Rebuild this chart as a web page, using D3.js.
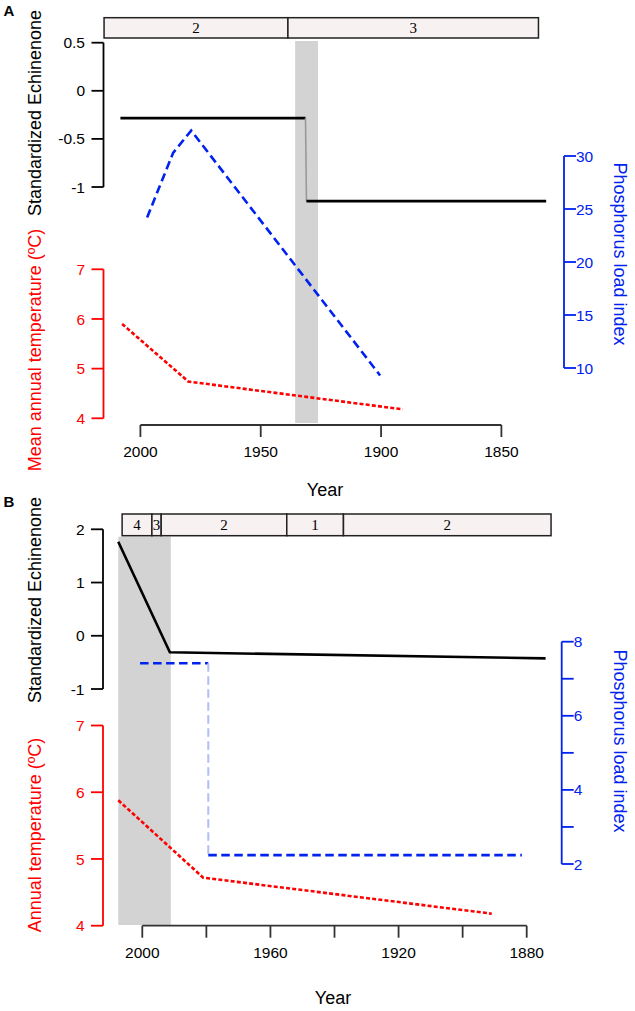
<!DOCTYPE html>
<html>
<head>
<meta charset="utf-8">
<script src="https://cdn.jsdelivr.net/npm/d3@7/dist/d3.min.js"></script>
<style>
  body { margin: 0; background: #fff; }
  text { font-family: "Liberation Sans", Arial, sans-serif; }
  text.zone { font-family: "Liberation Serif", "Times New Roman", serif; }
</style>
</head>
<body>
<svg id="paper" width="635" height="1011"></svg>
<script>
// ---- panel A data ----
const aEchYear = [2008.3, 1931.4, 1931.0, 1831.4];
const aEchVal = [-0.284, -0.284, -1.147, -1.147];
const aPhosYear = [1997.2, 1986.4, 1978.9, 1900.4];
const aPhosVal = [24.2, 30.3, 32.4, 9.3];
const aTempYear = [2007.6, 1980.1, 1891.0];
const aTempVal = [5.9, 4.74, 4.18];
const aZones = ["2", "3"];
const aZoneBreaks = [2015.1, 1938.7, 1834.6];
const aShade = [1935.7, 1926.2];
const aYearTicks = [2000, 1950, 1900, 1850];
const aYearLabels = ["2000", "1950", "1900", "1850"];
const aEchTicks = [0.5, 0, -0.5, -1];
const aEchLabels = ["0.5", "0", "-0.5", "-1"];
const aTempTicks = [7, 6, 5, 4];
const aPhosTicks = [30, 25, 20, 15, 10];
const aPhosLabels = ["30", "25", "20", "15", "10"];

// ---- panel B data ----
const bEchYear = [2007.5, 1991.4, 1874.1];
const bEchVal = [1.767, -0.311, -0.424];
const bPhosYear = [2000.7, 1979.4, 1979.4, 1881.5];
const bPhosVal = [7.42, 7.42, 2.24, 2.24];
const bTempYear = [2007.5, 1981.0, 1890.9];
const bTempVal = [5.88, 4.72, 4.18];
const bZones = ["4", "3", "2", "1", "2"];
const bZoneBreaks = [2006.3, 1997.0, 1994.1, 1954.9, 1937.2, 1872.4];
const bShade = [2007.5, 1991.1];
const bYearTicks = [2000, 1980, 1960, 1940, 1920, 1900, 1880];
const bYearLabels = ["2000", "", "1960", "", "1920", "", "1880"];
const bEchTicks = [2, 1, 0, -1];
const bEchLabels = ["2", "1", "0", "-1"];
const bTempTicks = [7, 6, 5, 4];
const bPhosTicks = [8, 7, 6, 5, 4, 3, 2];
const bPhosLabels = ["8", "", "6", "", "4", "", "2"];

const svg = d3.select("#paper");

const panels = [
  {
    letter: "A", letterY: 11,
    x: d3.scaleLinear().domain([2000, 1850]).range([140.4, 501.4]),
    ech: d3.scaleLinear().domain([0.5, -1]).range([42.7, 187]),
    temp: d3.scaleLinear().domain([7, 4]).range([269.3, 418.3]),
    phos: d3.scaleLinear().domain([30, 10]).range([156, 368]),
    leftX: 103.5, rightX: 564, axisY: 425,
    bar: [17.7, 38], shadeY: [41, 423],
    echYear: aEchYear, echVal: aEchVal,
    phosYear: aPhosYear, phosVal: aPhosVal,
    tempYear: aTempYear, tempVal: aTempVal,
    zones: aZones, breaks: aZoneBreaks, shade: aShade,
    yearTicks: aYearTicks, yearLabels: aYearLabels,
    echTicks: aEchTicks, echLabels: aEchLabels,
    tempTicks: aTempTicks,
    phosTicks: aPhosTicks, phosLabels: aPhosLabels,
    echTitleY: 113, tempTitleY: 350, phosTitleY: 254,
    yearTitleX: 325, yearTitleY: 490,
    tempTitle: "Mean annual temperature (ºC)"
  },
  {
    letter: "B", letterY: 502,
    x: d3.scaleLinear().domain([2000, 1880]).range([142.3, 526.7]),
    ech: d3.scaleLinear().domain([2, -1]).range([529.3, 689]),
    temp: d3.scaleLinear().domain([7, 4]).range([725.5, 925.7]),
    phos: d3.scaleLinear().domain([8, 2]).range([641.7, 864]),
    leftX: 103, rightX: 561.7, axisY: 925.7,
    bar: [514, 535.7], shadeY: [536.7, 925],
    echYear: bEchYear, echVal: bEchVal,
    phosYear: bPhosYear, phosVal: bPhosVal,
    tempYear: bTempYear, tempVal: bTempVal,
    zones: bZones, breaks: bZoneBreaks, shade: bShade,
    yearTicks: bYearTicks, yearLabels: bYearLabels,
    echTicks: bEchTicks, echLabels: bEchLabels,
    tempTicks: bTempTicks,
    phosTicks: bPhosTicks, phosLabels: bPhosLabels,
    echTitleY: 600, tempTitleY: 835, phosTitleY: 741,
    yearTitleX: 333, yearTitleY: 998,
    tempTitle: "Annual temperature (ºC)"
  }
];

const line = d3.line();

// draws a series; near vertical steps come out faint like in the original
function drawSeries(g, p, years, vals, yScale, style, faint) {
  const pts = years.map((d, i) => [p.x(d), yScale(vals[i])]);
  let run = [pts[0]];
  const flush = () => {
    if (run.length > 1) {
      g.append("path").attr("d", line(run)).attr("fill", "none").call(style);
    }
  };
  for (let i = 1; i < pts.length; i++) {
    if (Math.abs(pts[i][0] - pts[i - 1][0]) < 1.5) {
      flush();
      g.append("path").attr("d", line([pts[i - 1], pts[i]]))
        .attr("fill", "none").call(faint);
      run = [pts[i]];
    } else {
      run.push(pts[i]);
    }
  }
  flush();
}

function yAxis(g, scale, ticks, labels, x, side, color) {
  const ax = g.append("g");
  const dir = side === "left" ? -1 : 1;
  ax.append("line")
    .attr("x1", x).attr("x2", x)
    .attr("y1", scale(d3.max(ticks))).attr("y2", scale(d3.min(ticks)))
    .attr("stroke", color).attr("stroke-width", 1.8);
  ticks.forEach((t, i) => {
    ax.append("line")
      .attr("x1", x).attr("x2", x + dir * 12)
      .attr("y1", scale(t)).attr("y2", scale(t))
      .attr("stroke", color).attr("stroke-width", 1.8);
    ax.append("text")
      .attr("x", side === "left" ? x - 18.5 : x + 12)
      .attr("y", scale(t))
      .attr("dy", "0.36em")
      .attr("text-anchor", side === "left" ? "end" : "start")
      .attr("font-size", 15.5)
      .attr("fill", color)
      .text(labels[i]);
  });
}

panels.forEach(p => {
  const g = svg.append("g");

  // shaded transition band
  g.append("rect")
    .attr("x", p.x(p.shade[0]))
    .attr("y", p.shadeY[0])
    .attr("width", p.x(p.shade[1]) - p.x(p.shade[0]))
    .attr("height", p.shadeY[1] - p.shadeY[0])
    .attr("fill", "#d3d3d3");

  // zone bar
  p.zones.forEach((z, i) => {
    const x0 = p.x(p.breaks[i]), x1 = p.x(p.breaks[i + 1]);
    g.append("rect")
      .attr("x", x0).attr("y", p.bar[0])
      .attr("width", x1 - x0).attr("height", p.bar[1] - p.bar[0])
      .attr("fill", "#f7f1f1").attr("stroke", "#222").attr("stroke-width", 1.5);
    g.append("text")
      .attr("class", "zone")
      .attr("x", (x0 + x1) / 2).attr("y", (p.bar[0] + p.bar[1]) / 2)
      .attr("dy", "0.35em").attr("text-anchor", "middle")
      .attr("font-size", 15)
      .text(z);
  });

  // series
  drawSeries(g, p, p.tempYear, p.tempVal, p.temp,
    s => s.attr("stroke", "#ff0000").attr("stroke-width", 2.6).attr("stroke-dasharray", "4,2.2"),
    s => s.attr("stroke", "#ff9999").attr("stroke-width", 2));
  drawSeries(g, p, p.phosYear, p.phosVal, p.phos,
    s => s.attr("stroke", "#0022ee").attr("stroke-width", 2.6).attr("stroke-dasharray", "8.5,4.5"),
    s => s.attr("stroke", "#aebef6").attr("stroke-width", 2).attr("stroke-dasharray", "8.5,4.5"));
  drawSeries(g, p, p.echYear, p.echVal, p.ech,
    s => s.attr("stroke", "#000").attr("stroke-width", 2.6),
    s => s.attr("stroke", "#999").attr("stroke-width", 1.6));

  // x axis
  const xa = g.append("g");
  xa.append("line")
    .attr("x1", p.x(d3.max(p.yearTicks))).attr("x2", p.x(d3.min(p.yearTicks)))
    .attr("y1", p.axisY).attr("y2", p.axisY)
    .attr("stroke", "#333").attr("stroke-width", 1.8);
  p.yearTicks.forEach((t, i) => {
    xa.append("line")
      .attr("x1", p.x(t)).attr("x2", p.x(t))
      .attr("y1", p.axisY).attr("y2", p.axisY + 12)
      .attr("stroke", "#333").attr("stroke-width", 1.8);
    xa.append("text")
      .attr("x", p.x(t)).attr("y", p.axisY + 26.5)
      .attr("dy", "0.36em").attr("text-anchor", "middle")
      .attr("font-size", 15.5)
      .text(p.yearLabels[i]);
  });

  // y axes
  yAxis(g, p.ech, p.echTicks, p.echLabels, p.leftX, "left", "#000");
  yAxis(g, p.temp, p.tempTicks, p.tempTicks.map(String), p.leftX, "left", "#ff0000");
  yAxis(g, p.phos, p.phosTicks, p.phosLabels, p.rightX, "right", "#0022ee");

  // titles
  g.append("text")
    .attr("transform", `translate(35,${p.echTitleY}) rotate(-90)`)
    .attr("dy", "0.35em").attr("text-anchor", "middle")
    .attr("font-size", 18)
    .text("Standardized Echinenone");
  g.append("text")
    .attr("transform", `translate(35,${p.tempTitleY}) rotate(-90)`)
    .attr("dy", "0.35em").attr("text-anchor", "middle")
    .attr("font-size", 18).attr("fill", "#ff0000")
    .text(p.tempTitle);
  g.append("text")
    .attr("transform", `translate(620,${p.phosTitleY}) rotate(90)`)
    .attr("dy", "0.35em").attr("text-anchor", "middle")
    .attr("font-size", 18).attr("fill", "#0022ee")
    .text("Phosphorus load index");
  g.append("text")
    .attr("x", p.yearTitleX)
    .attr("y", p.yearTitleY)
    .attr("dy", "0.35em").attr("text-anchor", "middle")
    .attr("font-size", 18)
    .text("Year");
  g.append("text")
    .attr("x", 9).attr("y", p.letterY)
    .attr("dy", "0.35em").attr("text-anchor", "middle")
    .attr("font-size", 15).attr("font-weight", "bold")
    .text(p.letter);
});
</script>
</body>
</html>
